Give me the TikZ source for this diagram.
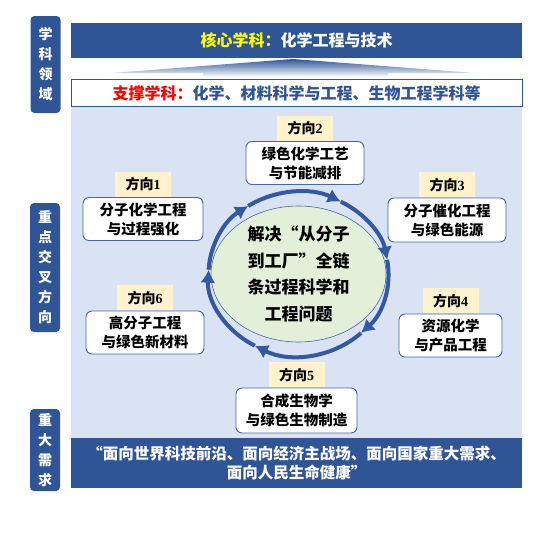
\documentclass[tikz,border=0pt]{standalone}
\usepackage{fontspec}
\setmainfont{Noto Sans CJK SC}
\newfontfamily\numfont{Liberation Serif}
\usetikzlibrary{positioning,calc,arrows.meta}
\usepgflibrary{shapes.geometric}
\definecolor{bandblue}{HTML}{2F5597}
\definecolor{areablue}{HTML}{DAE3F3}
\definecolor{tagyellow}{HTML}{FFF2CC}
\definecolor{coregreen}{HTML}{E2F0D9}
\definecolor{edgeblue}{HTML}{4468AC}
\definecolor{ringblue}{HTML}{3459A3}
\definecolor{coreyellow}{HTML}{FFFF00}
\newcommand\dirno[1]{方向{\numfont #1}}

\begin{document}
\begin{tikzpicture}[x=1pt,y=-1pt,
  sidebox/.style={fill=bandblue,rounded corners=4pt,text=white,minimum width=30pt,inner sep=0pt,align=center,font=\bfseries\fontsize{14}{20}\selectfont},
  band/.style={fill=bandblue,minimum width=451pt,inner sep=0pt,align=center,text=white,font=\bfseries\fontsize{16}{19}\selectfont},
  tag/.style={fill=tagyellow,minimum width=56pt,minimum height=25pt,inner sep=0pt,font=\bfseries\fontsize{14}{16}\selectfont},
  dirbox/.style={draw=edgeblue,line width=0.9pt,fill=white,rounded corners=6pt,minimum height=43pt,inner sep=1pt,align=center,font=\bfseries\fontsize{14.5}{19}\selectfont},
  hub/.style={ellipse,fill=coregreen,draw=edgeblue,line width=0.6pt,minimum width=175pt,minimum height=136pt,inner sep=0pt},
  ringarrow/.style={draw=ringblue,line width=4pt,-{Latex[length=13pt,width=15pt]}}]
  \useasboundingbox (0,0) rectangle (551,538);
  \fill[areablue] (71,107) rectangle (522,438);
  \node[sidebox,minimum height=97pt] (field) at (45.5,64.5) {学\\科\\领\\域};
  \node[sidebox,minimum height=129pt] (cross) at (45,267.5) {重\\点\\交\\叉\\方\\向};
  \node[sidebox,minimum height=82pt] (need) at (45,450) {重\\大\\需\\求};
  \node[band,minimum height=35pt] (core) at (296.5,40.5) {\textcolor{coreyellow}{核心学科：}化学工程与技术};
  \shade[top color=bandblue,bottom color=white] (112,73) -- (293,59) -- (474,73) -- (388,73) -- (388,77) -- (203,77) -- (203,73) -- cycle;
  \node[band,fill=white,draw=bandblue,line width=1pt,minimum height=27pt,text=bandblue] (support) at (296.5,93) {\textcolor{red}{支撑学科：}化学、材料科学与工程、生物工程学科等};
  \node[band,minimum height=50pt,font=\bfseries\fontsize{15.5}{18.5}\selectfont] (demand) at (296.5,463) {“面向世界科技前沿、面向经济主战场、面向国家重大需求、\\面向人民生命健康”};

  \node[hub] (hub) at (298.5,274) {};
  \node[font=\bfseries\fontsize{17}{26.7}\selectfont,align=center] (goal) at (hub) {解决“从分子\\到工厂”全链\\条过程科学和\\工程问题};
  \foreach \s/\e in {-177/-124,-124/-62,-62/-10,-10/46,46/119,119/183}
    \draw[ringarrow] ($(hub.center)+(\s:90 and 82)$) arc[start angle=\s,end angle=\e,x radius=90,y radius=82];

  \node[dirbox,minimum width=120pt] (d1) at (143,219) {分子化学工程\\与过程强化};
  \node[dirbox,minimum width=118pt] (d2) at (305,163) {绿色化学工艺\\与节能减排};
  \node[dirbox,minimum width=118pt,minimum height=44pt] (d3) at (447,220) {分子催化工程\\与绿色能源};
  \node[dirbox,minimum width=103pt] (d4) at (450.5,335.5) {资源化学\\与产品工程};
  \node[dirbox,minimum width=121pt,minimum height=45pt] (d5) at (296.5,410.5) {合成生物学\\与绿色生物制造};
  \node[dirbox,minimum width=118pt] (d6) at (145,332.5) {高分子工程\\与绿色新材料};
  \foreach \i in {1,...,6}
    \node[tag,above=0pt of d\i] (t\i) {\dirno{\i}};
\end{tikzpicture}
\end{document}
